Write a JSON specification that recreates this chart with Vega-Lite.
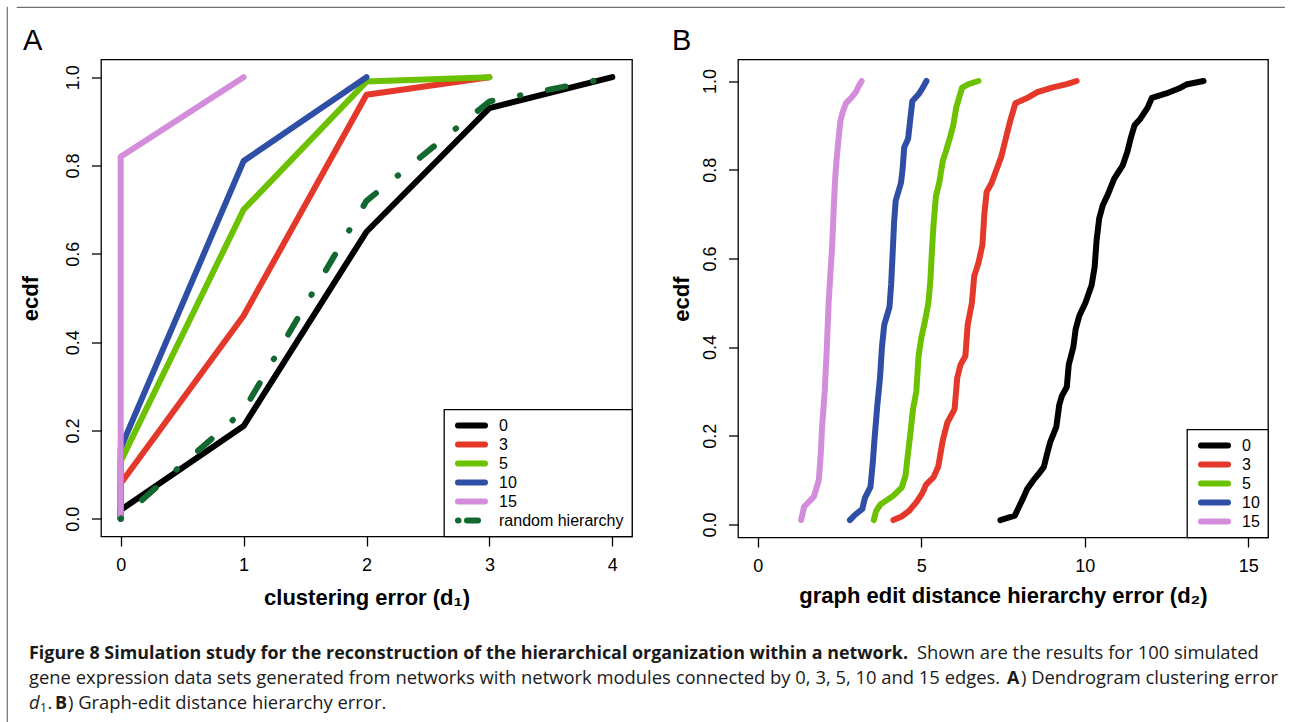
{
  "$schema": "https://vega.github.io/schema/vega-lite/v6.json",
  "background": "white",
  "padding": {"left": 6, "top": 6, "right": 0, "bottom": 0},
  "config": {
    "view": {"stroke": "black", "strokeWidth": 1.3},
    "axis": {"grid": false, "domain": false, "tickColor": "black", "tickWidth": 1.3, "tickSize": 9.5, "labelColor": "black", "labelFont": "Liberation Sans", "labelFontSize": 18, "titleColor": "black", "titleFont": "Liberation Sans", "titleFontSize": 22, "titleFontWeight": "bold"},
    "legend": {"orient": "bottom-right", "offset": 0, "padding": 8, "strokeColor": "black", "strokeWidth": 1.3, "fillColor": "white", "cornerRadius": 0, "symbolType": "stroke", "symbolSize": 729, "symbolStrokeWidth": 6, "symbolOffset": 3, "labelFont": "Liberation Sans", "labelFontSize": 16, "labelColor": "black", "labelOffset": 11, "rowPadding": 3, "clipHeight": 16},
    "title": {"font": "Liberation Sans", "fontSize": 29, "fontWeight": "normal", "color": "black", "anchor": "start", "baseline": "alphabetic", "frame": "group"}
  },
  "datasets": {
    "ecdfA": [
      {"series": "0", "x": 0, "y": 0}, {"series": "0", "x": 0, "y": 0.02}, {"series": "0", "x": 1, "y": 0.21}, {"series": "0", "x": 2, "y": 0.65}, {"series": "0", "x": 3, "y": 0.93}, {"series": "0", "x": 4, "y": 1.0},
      {"series": "3", "x": 0, "y": 0}, {"series": "3", "x": 0, "y": 0.08}, {"series": "3", "x": 1, "y": 0.46}, {"series": "3", "x": 2, "y": 0.96}, {"series": "3", "x": 3, "y": 1.0},
      {"series": "5", "x": 0, "y": 0}, {"series": "5", "x": 0, "y": 0.13}, {"series": "5", "x": 1, "y": 0.70}, {"series": "5", "x": 2, "y": 0.99}, {"series": "5", "x": 3, "y": 1.0},
      {"series": "10", "x": 0, "y": 0}, {"series": "10", "x": 0, "y": 0.16}, {"series": "10", "x": 1, "y": 0.81}, {"series": "10", "x": 2, "y": 1.0},
      {"series": "15", "x": 0, "y": 0}, {"series": "15", "x": 0, "y": 0.82}, {"series": "15", "x": 1, "y": 1.0},
      {"series": "random hierarchy", "x": 0, "y": 0}, {"series": "random hierarchy", "x": 1, "y": 0.245}, {"series": "random hierarchy", "x": 2, "y": 0.72}, {"series": "random hierarchy", "x": 3, "y": 0.945}, {"series": "random hierarchy", "x": 4, "y": 1.0}
    ],
    "ecdfB": [
      {"series": "0", "x": 7.42, "y": 0.01}, {"series": "0", "x": 7.86, "y": 0.02}, {"series": "0", "x": 7.99, "y": 0.04}, {"series": "0", "x": 8.12, "y": 0.06}, {"series": "0", "x": 8.24, "y": 0.08}, {"series": "0", "x": 8.43, "y": 0.10}, {"series": "0", "x": 8.60, "y": 0.115}, {"series": "0", "x": 8.75, "y": 0.13}, {"series": "0", "x": 8.85, "y": 0.16}, {"series": "0", "x": 8.94, "y": 0.185}, {"series": "0", "x": 9.13, "y": 0.22}, {"series": "0", "x": 9.22, "y": 0.27}, {"series": "0", "x": 9.30, "y": 0.29}, {"series": "0", "x": 9.45, "y": 0.31}, {"series": "0", "x": 9.51, "y": 0.36}, {"series": "0", "x": 9.65, "y": 0.40}, {"series": "0", "x": 9.72, "y": 0.44}, {"series": "0", "x": 9.83, "y": 0.47}, {"series": "0", "x": 10.02, "y": 0.50}, {"series": "0", "x": 10.21, "y": 0.54}, {"series": "0", "x": 10.30, "y": 0.58}, {"series": "0", "x": 10.36, "y": 0.64}, {"series": "0", "x": 10.44, "y": 0.69}, {"series": "0", "x": 10.55, "y": 0.72}, {"series": "0", "x": 10.71, "y": 0.745}, {"series": "0", "x": 10.90, "y": 0.78}, {"series": "0", "x": 11.16, "y": 0.81}, {"series": "0", "x": 11.30, "y": 0.84}, {"series": "0", "x": 11.40, "y": 0.87}, {"series": "0", "x": 11.52, "y": 0.90}, {"series": "0", "x": 11.70, "y": 0.915}, {"series": "0", "x": 11.92, "y": 0.94}, {"series": "0", "x": 12.05, "y": 0.962}, {"series": "0", "x": 12.49, "y": 0.972}, {"series": "0", "x": 12.93, "y": 0.985}, {"series": "0", "x": 13.1, "y": 0.992}, {"series": "0", "x": 13.63, "y": 1.0},
      {"series": "3", "x": 4.15, "y": 0.01}, {"series": "3", "x": 4.40, "y": 0.018}, {"series": "3", "x": 4.62, "y": 0.03}, {"series": "3", "x": 4.85, "y": 0.05}, {"series": "3", "x": 5.03, "y": 0.07}, {"series": "3", "x": 5.15, "y": 0.09}, {"series": "3", "x": 5.38, "y": 0.107}, {"series": "3", "x": 5.52, "y": 0.13}, {"series": "3", "x": 5.66, "y": 0.19}, {"series": "3", "x": 5.80, "y": 0.23}, {"series": "3", "x": 6.02, "y": 0.26}, {"series": "3", "x": 6.10, "y": 0.33}, {"series": "3", "x": 6.20, "y": 0.36}, {"series": "3", "x": 6.35, "y": 0.38}, {"series": "3", "x": 6.42, "y": 0.45}, {"series": "3", "x": 6.55, "y": 0.50}, {"series": "3", "x": 6.62, "y": 0.56}, {"series": "3", "x": 6.75, "y": 0.59}, {"series": "3", "x": 6.87, "y": 0.63}, {"series": "3", "x": 6.93, "y": 0.70}, {"series": "3", "x": 7.0, "y": 0.75}, {"series": "3", "x": 7.15, "y": 0.77}, {"series": "3", "x": 7.30, "y": 0.80}, {"series": "3", "x": 7.45, "y": 0.83}, {"series": "3", "x": 7.55, "y": 0.86}, {"series": "3", "x": 7.72, "y": 0.91}, {"series": "3", "x": 7.88, "y": 0.95}, {"series": "3", "x": 8.25, "y": 0.962}, {"series": "3", "x": 8.55, "y": 0.975}, {"series": "3", "x": 9.0, "y": 0.985}, {"series": "3", "x": 9.45, "y": 0.993}, {"series": "3", "x": 9.75, "y": 1.0},
      {"series": "5", "x": 3.55, "y": 0.01}, {"series": "5", "x": 3.62, "y": 0.03}, {"series": "5", "x": 3.75, "y": 0.045}, {"series": "5", "x": 3.95, "y": 0.055}, {"series": "5", "x": 4.15, "y": 0.065}, {"series": "5", "x": 4.40, "y": 0.083}, {"series": "5", "x": 4.52, "y": 0.11}, {"series": "5", "x": 4.58, "y": 0.15}, {"series": "5", "x": 4.66, "y": 0.20}, {"series": "5", "x": 4.75, "y": 0.26}, {"series": "5", "x": 4.85, "y": 0.30}, {"series": "5", "x": 4.92, "y": 0.38}, {"series": "5", "x": 5.0, "y": 0.42}, {"series": "5", "x": 5.12, "y": 0.46}, {"series": "5", "x": 5.22, "y": 0.50}, {"series": "5", "x": 5.28, "y": 0.55}, {"series": "5", "x": 5.33, "y": 0.62}, {"series": "5", "x": 5.38, "y": 0.68}, {"series": "5", "x": 5.45, "y": 0.74}, {"series": "5", "x": 5.55, "y": 0.77}, {"series": "5", "x": 5.66, "y": 0.82}, {"series": "5", "x": 5.75, "y": 0.84}, {"series": "5", "x": 5.87, "y": 0.87}, {"series": "5", "x": 5.98, "y": 0.90}, {"series": "5", "x": 6.07, "y": 0.94}, {"series": "5", "x": 6.15, "y": 0.96}, {"series": "5", "x": 6.25, "y": 0.985}, {"series": "5", "x": 6.45, "y": 0.993}, {"series": "5", "x": 6.75, "y": 1.0},
      {"series": "10", "x": 2.82, "y": 0.01}, {"series": "10", "x": 2.98, "y": 0.022}, {"series": "10", "x": 3.20, "y": 0.035}, {"series": "10", "x": 3.28, "y": 0.06}, {"series": "10", "x": 3.45, "y": 0.085}, {"series": "10", "x": 3.52, "y": 0.14}, {"series": "10", "x": 3.57, "y": 0.19}, {"series": "10", "x": 3.66, "y": 0.27}, {"series": "10", "x": 3.74, "y": 0.33}, {"series": "10", "x": 3.80, "y": 0.40}, {"series": "10", "x": 3.87, "y": 0.45}, {"series": "10", "x": 4.03, "y": 0.49}, {"series": "10", "x": 4.08, "y": 0.54}, {"series": "10", "x": 4.12, "y": 0.60}, {"series": "10", "x": 4.17, "y": 0.68}, {"series": "10", "x": 4.22, "y": 0.73}, {"series": "10", "x": 4.38, "y": 0.77}, {"series": "10", "x": 4.43, "y": 0.80}, {"series": "10", "x": 4.48, "y": 0.85}, {"series": "10", "x": 4.60, "y": 0.87}, {"series": "10", "x": 4.66, "y": 0.91}, {"series": "10", "x": 4.73, "y": 0.955}, {"series": "10", "x": 4.92, "y": 0.97}, {"series": "10", "x": 5.05, "y": 0.985}, {"series": "10", "x": 5.16, "y": 1.0},
      {"series": "15", "x": 1.33, "y": 0.01}, {"series": "15", "x": 1.42, "y": 0.04}, {"series": "15", "x": 1.72, "y": 0.063}, {"series": "15", "x": 1.87, "y": 0.10}, {"series": "15", "x": 1.93, "y": 0.16}, {"series": "15", "x": 1.97, "y": 0.22}, {"series": "15", "x": 2.05, "y": 0.30}, {"series": "15", "x": 2.11, "y": 0.39}, {"series": "15", "x": 2.17, "y": 0.50}, {"series": "15", "x": 2.22, "y": 0.56}, {"series": "15", "x": 2.28, "y": 0.63}, {"series": "15", "x": 2.33, "y": 0.72}, {"series": "15", "x": 2.37, "y": 0.78}, {"series": "15", "x": 2.41, "y": 0.82}, {"series": "15", "x": 2.46, "y": 0.86}, {"series": "15", "x": 2.53, "y": 0.91}, {"series": "15", "x": 2.60, "y": 0.93}, {"series": "15", "x": 2.70, "y": 0.95}, {"series": "15", "x": 2.86, "y": 0.962}, {"series": "15", "x": 3.00, "y": 0.975}, {"series": "15", "x": 3.08, "y": 0.987}, {"series": "15", "x": 3.18, "y": 1.0}
    ],
    "caption": [
      {"line": 1, "part": "l1a", "text": "Figure 8 Simulation study for the reconstruction of the hierarchical organization within a network."},
      {"line": 1, "part": "l1b", "text": "Shown are the results for 100 simulated"},
      {"line": 2, "part": "l2a", "text": "gene expression data sets generated from networks with network modules connected by 0, 3, 5, 10 and 15 edges."},
      {"line": 2, "part": "l2b", "text": "A"},
      {"line": 2, "part": "l2c", "text": ") Dendrogram clustering error"},
      {"line": 3, "part": "l3a", "text": "d"},
      {"line": 3, "part": "l3b", "text": "1"},
      {"line": 3, "part": "l3c", "text": "."},
      {"line": 3, "part": "l3d", "text": "B"},
      {"line": 3, "part": "l3e", "text": ") Graph-edit distance hierarchy error."}
    ]
  },
  "spacing": 8,
  "hconcat": [
    {
      "width": 0.01,
      "height": 716,
      "view": {"stroke": "#707070", "strokeWidth": 1.2},
      "data": {"values": []},
      "mark": "rule",
      "encoding": {}
    },
    {
      "spacing": 17.5,
      "vconcat": [
        {
          "width": 1267,
          "height": 0.01,
          "view": {"stroke": "#707070", "strokeWidth": 1.2},
          "data": {"values": []},
          "mark": "rule",
          "encoding": {}
        },
        {
          "spacing": 34,
          "resolve": {"scale": {"x": "independent", "y": "independent"}},
          "vconcat": [
            {
              "spacing": 0,
              "hconcat": [
                {
                  "width": 0.01,
                  "height": 0.01,
                  "view": {"stroke": null},
                  "data": {"values": []},
                  "mark": "rule",
                  "encoding": {}
                },
                {
                  "spacing": 35,
                  "resolve": {"scale": {"x": "independent", "y": "independent", "color": "independent"}, "legend": {"color": "independent"}},
                  "hconcat": [
                    {
                      "width": 531,
                      "height": 477,
                      "title": {"text": "A", "dx": -78, "offset": 4},
                      "encoding": {
                        "x": {"field": "x", "type": "quantitative", "scale": {"domain": [-0.16, 4.16], "nice": false, "zero": false}, "axis": {"values": [0, 1, 2, 3, 4], "format": "d", "labelPadding": 10, "title": "clustering error (d₁)", "titlePadding": 13}},
                        "y": {"field": "y", "type": "quantitative", "scale": {"domain": [-0.04, 1.04], "nice": false, "zero": false}, "axis": {"values": [0, 0.2, 0.4, 0.6, 0.8, 1.0], "format": ".1f", "labelAngle": -90, "labelAlign": "center", "labelBaseline": "alphabetic", "labelPadding": 13, "title": "ecdf", "titlePadding": 22}},
                        "color": {"field": "series", "type": "nominal", "scale": {"domain": ["0", "3", "5", "10", "15", "random hierarchy"], "range": ["#000000", "#e4382a", "#6cc100", "#2f4fa6", "#d38ddb", "#12682e"]}, "legend": {"title": null, "encoding": {"symbols": {"strokeCap": {"value": "round"}, "strokeDash": {"condition": {"test": "datum.value === 'random hierarchy'", "value": [0.5, 8.5, 11, 7.5]}, "value": [1, 0]}}}}},
                        "order": {"field": "y", "type": "quantitative"}
                      },
                      "layer": [
                        {"data": {"name": "ecdfA"}, "transform": [{"filter": "datum.series !== 'random hierarchy'"}], "mark": {"type": "line", "strokeWidth": 6, "strokeCap": "round", "strokeJoin": "round"}},
                        {"data": {"name": "ecdfA"}, "transform": [{"filter": "datum.series === 'random hierarchy'"}], "mark": {"type": "line", "strokeWidth": 6, "strokeCap": "round", "strokeJoin": "round", "strokeDash": [0.5, 28, 18, 28]}}
                      ]
                    },
                    {
                      "width": 530,
                      "height": 478,
                      "title": {"text": "B", "dx": -66, "offset": 4},
                      "data": {"name": "ecdfB"},
                      "mark": {"type": "line", "strokeWidth": 6, "strokeCap": "round", "strokeJoin": "round"},
                      "encoding": {
                        "x": {"field": "x", "type": "quantitative", "scale": {"domain": [-0.6, 15.6], "nice": false, "zero": false}, "axis": {"values": [0, 5, 10, 15], "format": "d", "labelPadding": 10, "title": "graph edit distance hierarchy error (d₂)", "titlePadding": 10}},
                        "y": {"field": "y", "type": "quantitative", "scale": {"domain": [-0.0293, 1.0485], "nice": false, "zero": false}, "axis": {"values": [0, 0.2, 0.4, 0.6, 0.8, 1.0], "format": ".1f", "labelAngle": -90, "labelAlign": "center", "labelBaseline": "alphabetic", "labelPadding": 13, "title": "ecdf", "titlePadding": 8}},
                        "color": {"field": "series", "type": "nominal", "scale": {"domain": ["0", "3", "5", "10", "15"], "range": ["#000000", "#e4382a", "#6cc100", "#2f4fa6", "#d38ddb"]}, "legend": {"title": null, "encoding": {"symbols": {"strokeCap": {"value": "round"}}}}},
                        "order": {"field": "y", "type": "quantitative"}
                      }
                    }
                  ]
                }
              ]
            },
            {
              "width": 1240,
              "height": 75,
              "view": {"stroke": null},
              "data": {"name": "caption"},
              "encoding": {
                "y": {"field": "line", "type": "ordinal", "scale": {"type": "point", "padding": 0.5}, "axis": null},
                "text": {"field": "text"}
              },
              "layer": [
                {"transform": [{"filter": "datum.part === 'l1a'"}], "mark": {"type": "text", "align": "left", "baseline": "alphabetic", "font": "Open Sans", "fontSize": 17.9, "fontWeight": "bold", "color": "#1a1a1a"}, "encoding": {"x": {"value": 12}}},
                {"transform": [{"filter": "datum.part === 'l1b'"}], "mark": {"type": "text", "align": "left", "baseline": "alphabetic", "font": "Open Sans", "fontSize": 18.4, "color": "#1a1a1a"}, "encoding": {"x": {"value": 900}}},
                {"transform": [{"filter": "datum.part === 'l2a'"}], "mark": {"type": "text", "align": "left", "baseline": "alphabetic", "font": "Open Sans", "fontSize": 18.4, "color": "#1a1a1a"}, "encoding": {"x": {"value": 12}}},
                {"transform": [{"filter": "datum.part === 'l2b'"}], "mark": {"type": "text", "align": "left", "baseline": "alphabetic", "font": "Open Sans", "fontSize": 17.9, "fontWeight": "bold", "color": "#1a1a1a"}, "encoding": {"x": {"value": 990}}},
                {"transform": [{"filter": "datum.part === 'l2c'"}], "mark": {"type": "text", "align": "left", "baseline": "alphabetic", "font": "Open Sans", "fontSize": 18.4, "color": "#1a1a1a"}, "encoding": {"x": {"value": 1004}}},
                {"transform": [{"filter": "datum.part === 'l3a'"}], "mark": {"type": "text", "align": "left", "baseline": "alphabetic", "font": "Open Sans", "fontSize": 18.4, "fontStyle": "italic", "color": "#1a1a1a"}, "encoding": {"x": {"value": 12}}},
                {"transform": [{"filter": "datum.part === 'l3b'"}], "mark": {"type": "text", "align": "left", "baseline": "alphabetic", "font": "Open Sans", "fontSize": 12, "dy": 3, "color": "#1a1a1a"}, "encoding": {"x": {"value": 23}}},
                {"transform": [{"filter": "datum.part === 'l3c'"}], "mark": {"type": "text", "align": "left", "baseline": "alphabetic", "font": "Open Sans", "fontSize": 18.4, "color": "#1a1a1a"}, "encoding": {"x": {"value": 30.5}}},
                {"transform": [{"filter": "datum.part === 'l3d'"}], "mark": {"type": "text", "align": "left", "baseline": "alphabetic", "font": "Open Sans", "fontSize": 17.9, "fontWeight": "bold", "color": "#1a1a1a"}, "encoding": {"x": {"value": 38}}},
                {"transform": [{"filter": "datum.part === 'l3e'"}], "mark": {"type": "text", "align": "left", "baseline": "alphabetic", "font": "Open Sans", "fontSize": 18.4, "color": "#1a1a1a"}, "encoding": {"x": {"value": 51}}}
              ]
            }
          ]
        }
      ]
    }
  ]
}
